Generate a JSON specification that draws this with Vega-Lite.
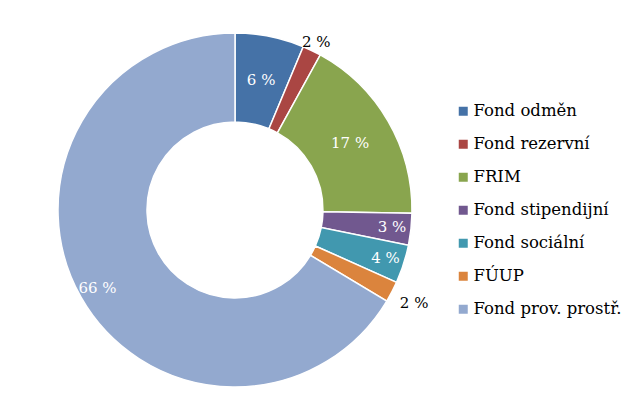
{
  "$schema": "https://vega.github.io/schema/vega-lite/v6.json",
  "width": 452,
  "height": 400,
  "autosize": "none",
  "padding": {"left": 9, "top": 10, "right": 168, "bottom": 0},
  "background": "white",
  "config": {"view": {"stroke": null}, "font": "DejaVu Serif"},
  "data": {
    "values": [
      {"name": "Fond odměn", "value": 6.3, "label": "6 %", "idx": 1},
      {"name": "Fond rezervní", "value": 1.7, "label": "2 %", "idx": 2},
      {"name": "FRIM", "value": 17.3, "label": "17 %", "idx": 3},
      {"name": "Fond stipendijní", "value": 2.9, "label": "3 %", "idx": 4},
      {"name": "Fond sociální", "value": 3.5, "label": "4 %", "idx": 5},
      {"name": "FÚUP", "value": 1.9, "label": "2 %", "idx": 6},
      {"name": "Fond prov. prostř.", "value": 66.4, "label": "66 %", "idx": 7}
    ]
  },
  "encoding": {
    "theta": {"field": "value", "type": "quantitative", "stack": true},
    "order": {"field": "idx", "type": "quantitative"}
  },
  "layer": [
    {
      "mark": {"type": "arc", "outerRadius": 177, "innerRadius": 88, "stroke": "white", "strokeWidth": 1.5},
      "encoding": {
        "color": {
          "field": "name",
          "type": "nominal",
          "sort": ["Fond odměn", "Fond rezervní", "FRIM", "Fond stipendijní", "Fond sociální", "FÚUP", "Fond prov. prostř."],
          "scale": {
            "domain": ["Fond odměn", "Fond rezervní", "FRIM", "Fond stipendijní", "Fond sociální", "FÚUP", "Fond prov. prostř."],
            "range": ["#4572A7", "#AA4643", "#89A54E", "#71588F", "#4198AF", "#DB843D", "#93A9CF"]
          },
          "legend": {
            "title": null,
            "orient": "none",
            "legendX": 446,
            "legendY": 93,
            "symbolType": "square",
            "symbolSize": 81,
            "symbolStrokeWidth": 0,
            "labelFont": "DejaVu Serif",
            "labelFontSize": 16.5,
            "labelColor": "#000000",
            "labelOffset": 2,
            "rowPadding": 16
          }
        }
      }
    },
    {
      "mark": {
        "type": "text",
        "font": "DejaVu Serif",
        "fontSize": 15,
        "radius": {"expr": "datum.idx == 2 ? 187 : (datum.idx == 6 ? 202 : (datum.value < 5 || datum.value > 50 ? 158 : 133))"}
      },
      "encoding": {
        "text": {"field": "label"},
        "color": {
          "condition": {"test": "datum.value < 2.5", "value": "#000000"},
          "value": "#ffffff"
        }
      }
    }
  ]
}
